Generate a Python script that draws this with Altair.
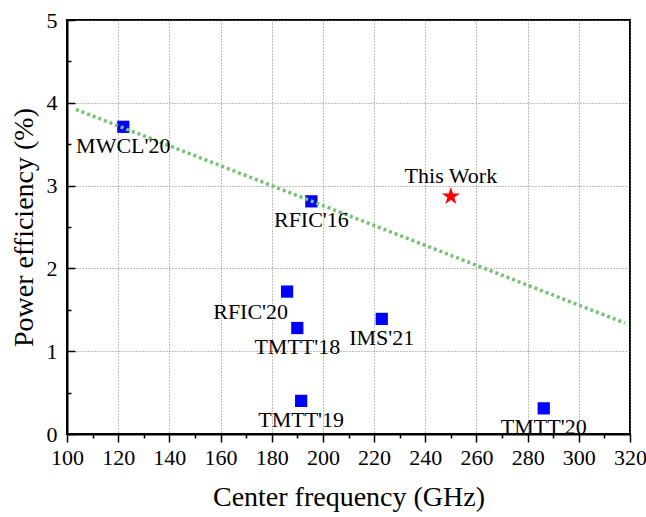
import altair as alt
import pandas as pd

# ---- data ----
labels = ["MWCL'20", "RFIC'16", "RFIC'20", "TMTT'18", "IMS'21", "TMTT'19", "TMTT'20"]
freq = [122.0, 195.5, 186.0, 190.0, 223.0, 191.5, 286.3]
eff = [3.71, 2.81, 1.72, 1.28, 1.39, 0.40, 0.31]

work_label = ["This Work"]
work_freq = [250.0]
work_eff = [2.87]

trend_freq = [103.5, 318.0]
trend_eff = [3.92, 1.34]

x_major = [100, 120, 140, 160, 180, 200, 220, 240, 260, 280, 300, 320]
x_minor = [110, 130, 150, 170, 190, 210, 230, 250, 270, 290, 310]
y_major = [0, 1, 2, 3, 4, 5]
y_minor = [0.5, 1.5, 2.5, 3.5, 4.5]

W, H = 563, 414
FONT = "Liberation Serif"
STAR = ("M0,-1L0.2245,-0.309L0.951,-0.309L0.363,0.118L0.588,0.809L0,0.382"
        "L-0.588,0.809L-0.363,0.118L-0.951,-0.309L-0.2245,-0.309Z")

refs = pd.DataFrame({"label": labels, "freq": freq, "eff": eff})
work = pd.DataFrame({"label": work_label, "freq": work_freq, "eff": work_eff})
trend = pd.DataFrame({"freq": trend_freq, "eff": trend_eff})

xs = alt.Scale(domain=[100, 320], nice=False, zero=False)
ys = alt.Scale(domain=[0, 5], nice=False, zero=False)

GRID = dict(grid=True, gridDash=[1, 2], gridColor="#7a7a7a", gridWidth=1)

main_x = alt.Axis(orient="bottom", values=x_major, format="d", tickSize=8, tickWidth=1.5,
                  labelFontSize=22, labelPadding=5, labelFlush=False, labelOverlap=False,
                  title="Center frequency (GHz)",
                  titleFontSize=28, titlePadding=15, **GRID)
minor_x = alt.Axis(orient="bottom", values=x_minor, tickSize=4, tickWidth=1.5, labels=False,
                   domain=False, grid=False, title=None)
main_y = alt.Axis(orient="left", values=y_major, format="d", ticks=False, labelPadding=10,
                  labelFontSize=22, labelFlush=False, labelOverlap=False,
                  title="Power efficiency (%)", titleFontSize=28,
                  titlePadding=8, **GRID)
major_y_in = alt.Axis(orient="right", offset=-W, values=y_major, tickSize=8, tickWidth=1.5,
                      labels=False, domain=False, grid=False, title=None)
minor_y_in = alt.Axis(orient="right", offset=-W, values=y_minor, tickSize=4, tickWidth=1.5,
                      labels=False, domain=False, grid=False, title=None)

squares = alt.Chart(refs).mark_point(
    shape="square", filled=True, size=150, color="#0000ff", opacity=1, strokeWidth=0
).encode(
    x=alt.X("freq:Q", scale=xs, axis=main_x),
    y=alt.Y("eff:Q", scale=ys, axis=main_y),
)

trend_line = alt.Chart(trend).mark_line(
    color="#74c274", strokeDash=[3, 3], strokeWidth=3.5
).encode(
    x=alt.X("freq:Q", scale=xs, axis=minor_x),
    y=alt.Y("eff:Q", scale=ys, axis=major_y_in),
)

star = alt.Chart(work).mark_point(
    shape=STAR, filled=True, size=360, color="#ff0000", opacity=1, strokeWidth=0
).encode(
    x=alt.X("freq:Q", scale=xs, axis=None),
    y=alt.Y("eff:Q", scale=ys, axis=None),
)

below_text = alt.Chart(refs).transform_filter(
    alt.datum.label != "RFIC'20"
).mark_text(
    font=FONT, fontSize=22, dy=19, baseline="middle", align="center", color="black"
).encode(
    x=alt.X("freq:Q", scale=xs, axis=None),
    y=alt.Y("eff:Q", scale=ys, axis=minor_y_in),
    text="label:N",
)

left_text = alt.Chart(refs).transform_filter(
    alt.datum.label == "RFIC'20"
).mark_text(
    font=FONT, fontSize=22, dx=1, dy=20, baseline="middle", align="right", color="black"
).encode(
    x=alt.X("freq:Q", scale=xs, axis=None),
    y=alt.Y("eff:Q", scale=ys, axis=None),
    text="label:N",
)

work_text = alt.Chart(work).mark_text(
    font=FONT, fontSize=22, dy=-20, baseline="middle", align="center", color="black"
).encode(
    x=alt.X("freq:Q", scale=xs, axis=None),
    y=alt.Y("eff:Q", scale=ys, axis=None),
    text="label:N",
)

chart = alt.layer(
    squares, trend_line, star, below_text, left_text, work_text
).resolve_axis(
    x="independent", y="independent"
).properties(
    width=W, height=H,
    autosize=alt.AutoSizeParams(type="none"),
    padding={"left": 67, "top": 20, "right": 16, "bottom": 83},
).configure(
    font=FONT,
    background="white",
).configure_view(
    stroke="black", strokeWidth=2
).configure_axis(
    domainColor="black", domainWidth=2, tickColor="black",
    labelColor="black", titleColor="black",
    labelFont=FONT, titleFont=FONT, titleFontWeight="normal",
)

chart.save("out.html", embed_options={"renderer": "svg", "actions": False})
